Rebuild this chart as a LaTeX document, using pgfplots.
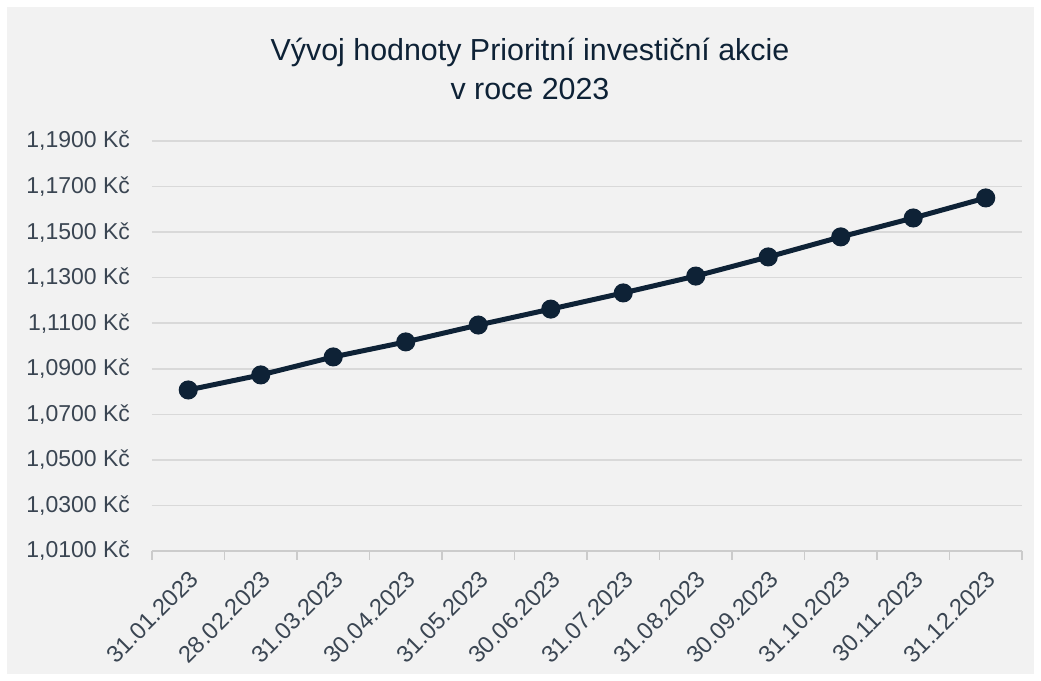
\documentclass[border=0pt]{standalone}
\usepackage{pgfplots}
\pgfplotsset{compat=1.18}
\usepackage{fontspec}
\setmainfont{Liberation Sans}
\definecolor{bgc}{HTML}{F2F2F2}
\definecolor{navy}{HTML}{0E2236}
\definecolor{gridc}{HTML}{D9D9D9}
\definecolor{lab}{HTML}{3A4552}
\begin{document}
\begin{tikzpicture}
\useasboundingbox (-76pt,-65pt) rectangle (444.5pt,275.5pt);
\fill[white] (-76pt,-65pt) rectangle (444.5pt,275.5pt);
\fill[bgc] (-72.5pt,-61.5pt) rectangle (441pt,272pt);
\node[align=center, font=\fontsize{15.2}{19.5}\selectfont, text=navy] at (189pt,241pt) {Vývoj hodnoty Prioritní investiční akcie\\v roce 2023};
\begin{axis}[
  scale only axis, width=435pt, height=205pt,
  xmin=-0.5, xmax=11.5, ymin=1.01, ymax=1.19,
  axis x line*=bottom, axis y line*=left,
  y axis line style={draw=none},
  x axis line style={draw=gridc!85!gray, line width=0.8pt, -},
  clip=false,
  ytick={1.01,1.03,1.05,1.07,1.09,1.11,1.13,1.15,1.17,1.19},
  yticklabels={{1,0100 Kč},{1,0300 Kč},{1,0500 Kč},{1,0700 Kč},{1,0900 Kč},{1,1100 Kč},{1,1300 Kč},{1,1500 Kč},{1,1700 Kč},{1,1900 Kč}},
  xtick={0,...,11},
  xticklabels={31.01.2023,28.02.2023,31.03.2023,30.04.2023,31.05.2023,30.06.2023,31.07.2023,31.08.2023,30.09.2023,31.10.2023,30.11.2023,31.12.2023},
  major tick length=0pt,
  ymajorgrids, grid style={gridc, line width=0.8pt},
  yticklabel style={font=\fontsize{11.5}{13}\selectfont, text=lab, xshift=-7.5pt},
  xticklabel style={font=\fontsize{11.8}{13}\selectfont, text=lab, rotate=45, anchor=east, yshift=-10.5pt, xshift=-3pt},
]
\pgfplotsinvokeforeach{-0.5,0.5,1.5,2.5,3.5,4.5,5.5,6.5,7.5,8.5,9.5,10.5,11.5}{
  \draw[gridc!85!gray, line width=0.8pt] (axis cs:#1,1.01) -- ([yshift=-4.5pt]axis cs:#1,1.01);
}
\addplot[navy, line width=2.5pt, mark=*, mark size=3.5pt, mark options={fill=navy, draw=navy}] coordinates {
(0,1.0807) (1,1.0873) (2,1.0952) (3,1.1018) (4,1.1092) (5,1.1162) (6,1.1233) (7,1.1307) (8,1.1391) (9,1.1479) (10,1.1562) (11,1.1650)
};
\end{axis}
\end{tikzpicture}
\end{document}
